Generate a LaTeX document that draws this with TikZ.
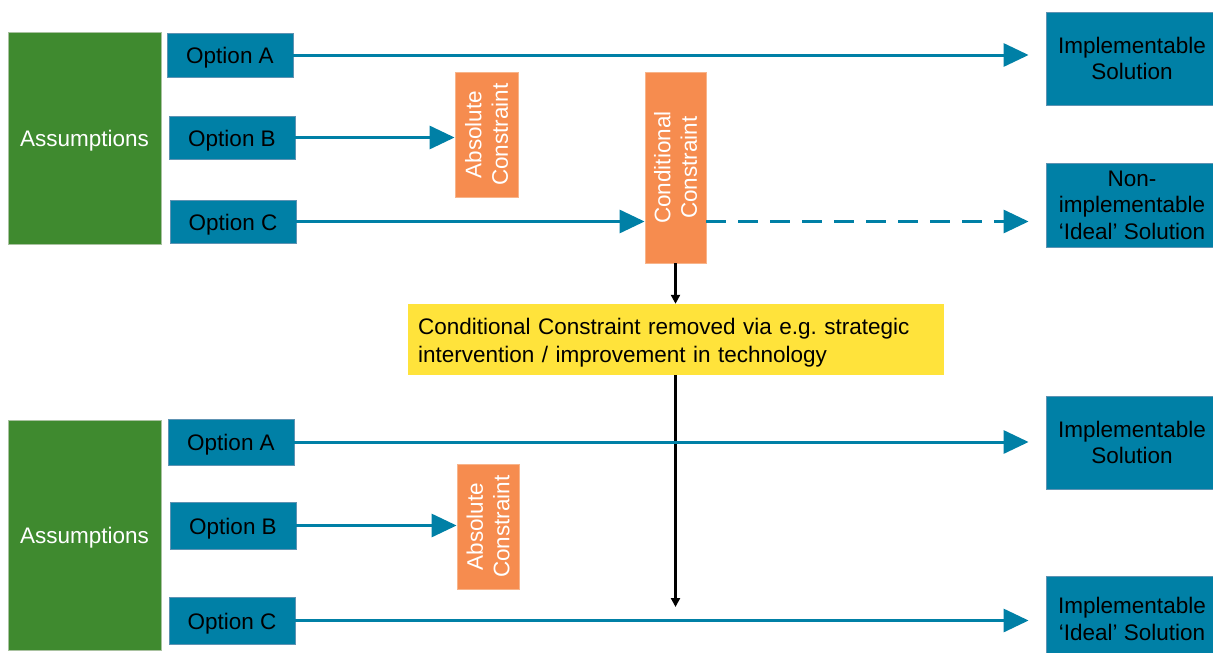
\documentclass[tikz,border=0pt]{standalone}
\usepackage{fontspec}
\setmainfont{Liberation Sans}
\usetikzlibrary{arrows.meta}

\definecolor{optblue}{HTML}{0080A6}
\definecolor{optedge}{HTML}{5E93B3}
\definecolor{asmgreen}{HTML}{3F8A2F}
\definecolor{asmedge}{HTML}{A9C2A0}
\definecolor{conorange}{HTML}{F68C4F}
\definecolor{conedge}{HTML}{F8B48A}
\definecolor{noteyellow}{HTML}{FFE33B}

\begin{document}
\begin{tikzpicture}[x=1pt,y=-1pt,
  txt/.style={font=\fontsize{22.5}{26.5}\selectfont},
  % a tall strut on the first line sets the text a little lower in its box
  lowered/.style={execute at begin node={\rule{0pt}{22.5pt}}},
  lowered more/.style={execute at begin node={\rule{0pt}{25pt}}},
  box/.style={txt,rectangle,inner sep=0pt,align=center},
  assume/.style={box,lowered,fill=asmgreen,draw=asmedge,line width=0.8pt,
    text=white,minimum width=153pt},
  option/.style={box,lowered,fill=optblue,draw=optedge,line width=0.8pt,
    text=black,minimum width=126pt},
  result/.style={box,lowered more,fill=optblue,draw=optedge,line width=0.8pt,
    text=black,minimum width=172pt},
  limit/.style={box,fill=conorange,draw=conedge,line width=0.8pt,text=white,
    rotate=90},
  note/.style={txt,lowered,rectangle,fill=noteyellow,inner xsep=10pt,
    inner ysep=0pt,align=left,text width=516pt,minimum height=71pt,
    font=\fontsize{22.5}{28}\selectfont},
  flow/.style={draw=optblue,line width=3pt,-{Triangle[length=25pt,width=23pt]}},
  flowgap/.style={flow,shorten >=17pt},
  dashflow/.style={flowgap,dash pattern=on 20pt off 12pt},
  step down/.style={draw=black,line width=2.2pt,-{Triangle[length=9pt,width=9pt]}}
]
\useasboundingbox (0,0) rectangle (1213,653);

% ---- current situation ----
\node[assume,minimum height=212pt] (asmT) at (84.5,138) {Assumptions};
\node[option,minimum height=44pt] (optAT) at (230,55) {Option A};
\node[option,minimum height=43pt] (optBT) at (232,137.5) {Option B};
\node[option,minimum height=43pt] (optCT) at (233,221.5) {Option C};

\node[limit,minimum width=125pt,minimum height=63pt] (absT) at (486.5,134.5)
  {Absolute\\Constraint};
\node[limit,minimum width=191pt,minimum height=61pt] (cond) at (675.5,167.5)
  {Conditional\\Constraint};

\node[result,minimum height=93pt] (solT) at (1132,58.5) {Implementable\\Solution};
\node[result,minimum height=84pt] (idealT) at (1132,205)
  {Non-\\implementable\\`Ideal' Solution};

\draw[flowgap] (optAT.east) -- (optAT.east -| solT.west);
\draw[flow] (optBT.east) -- (optBT.east -| absT.north);
\draw[flow] (optCT.east) -- (optCT.east -| cond.north);
\draw[dashflow] (optCT.east -| cond.south) -- (optCT.east -| idealT.west);

% ---- intervention ----
\node[note] (remove) at (676,339.5)
  {Conditional Constraint removed via e.g.\ strategic\\
   intervention / improvement in technology};
\draw[step down] (cond.west) -- (cond.west |- remove.north);
\coordinate (drop) at (675.5,607);
\draw[step down] (cond.west |- remove.south) -- (drop);

% ---- after removal ----
\node[assume,minimum height=230pt] (asmB) at (84.5,535) {Assumptions};
\node[option,minimum height=46pt] (optAB) at (231,442) {Option A};
\node[option,minimum height=47pt] (optBB) at (233,525.5) {Option B};
\node[option,minimum height=47pt] (optCB) at (232,620.5) {Option C};

\node[limit,minimum width=125pt,minimum height=62pt] (absB) at (488,526.5)
  {Absolute\\Constraint};

\node[result,minimum height=93pt] (solB) at (1132,442.5) {Implementable\\Solution};
\node[result,minimum height=86pt] (idealB) at (1132,619)
  {Implementable\\`Ideal' Solution};

\draw[flowgap] (optAB.east) -- (optAB.east -| solB.west);
\draw[flow] (optBB.east) -- (optBB.east -| absB.north);
\draw[flowgap] (optCB.east) -- (optCB.east -| idealB.west);
\end{tikzpicture}
\end{document}
